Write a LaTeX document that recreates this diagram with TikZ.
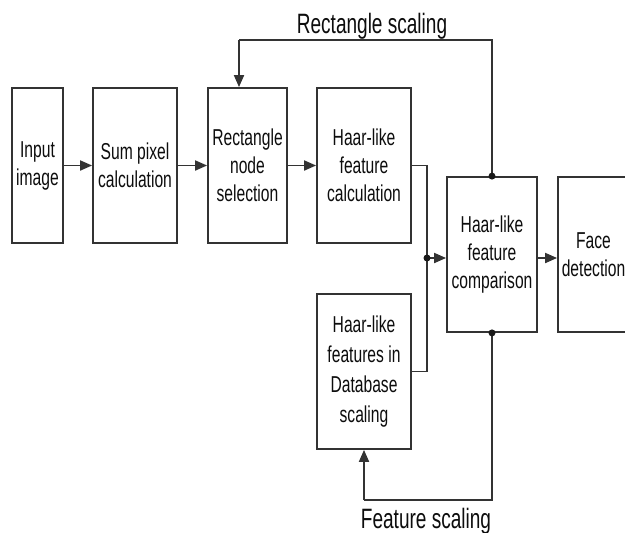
\documentclass[tikz,border=0pt]{standalone}
\usepackage{fontspec}
\setmainfont{Liberation Sans}[FakeStretch=0.68]
\usetikzlibrary{arrows.meta}
\tikzset{
  blk/.style={draw=black!80, line width=1.8pt, minimum height=155pt,
    inner sep=0pt, align=center, text=black!95,
    font=\fontsize{23}{28}\selectfont},
  link/.style={draw=black!80, line width=1.8pt},
  flow/.style={link, -{Triangle[length=12pt,width=10pt]}},
  dot/.style={circle, fill=black!90, inner sep=0pt, minimum size=7pt},
  loopname/.style={anchor=base, text=black!95, font=\fontsize{28}{30}\selectfont}
}
\begin{document}
\begin{tikzpicture}[x=1pt, y=-1pt]
\useasboundingbox (0,0) rectangle (625,533);

% processing blocks
\node[blk, minimum width=51pt] (inp)  at (37.5,165.5) {Input\\image};
\node[blk, minimum width=84pt] (sum)  at (135,165.5)  {Sum pixel\\calculation};
\node[blk, minimum width=79pt] (rect) at (247.5,165.5) {Rectangle\\node\\selection};
\node[blk, minimum width=94pt] (calc) at (364,165.5)  {Haar-like\\feature\\calculation};
\node[blk, minimum width=94pt, font=\fontsize{23}{30}\selectfont] (db) at (364,371.5)
  {Haar-like\\features in\\Database\\scaling};
\node[blk, minimum width=90pt] (cmp)  at (492,254.5)  {Haar-like\\feature\\comparison};
\node[blk, minimum width=71pt] (face) at (593.5,254.5) {Face\\detection};

% main chain
\draw[flow] (inp) -- (sum);
\draw[flow] (sum) -- (rect);
\draw[flow] (rect) -- (calc);

% merge of computed and database features
\coordinate (j) at (427,258);
\draw[link] (calc.east) -- (calc.east -| j) -- (db.east -| j) -- (db.east);
\draw[flow] (j) -- (cmp.west |- j);
\node[dot] at (j) {};
\draw[flow] (cmp.east |- j) -- (face.west |- j);

% rectangle scaling loop
\coordinate (ttop) at (cmp.north);
\coordinate (rin) at (239,40);
\draw[link] (cmp.north) -- (ttop |- rin) -- (rin);
\draw[flow] (rin) -- (rin |- rect.north);
\node[dot] at (cmp.north) {};
\node[loopname] (rsl) at (372,33) {Rectangle scaling};

% feature scaling loop
\coordinate (fin) at (364,500);
\draw[link] (cmp.south) -- (cmp.south |- fin) -- (fin);
\draw[flow] (fin) -- (db.south);
\node[dot] at (cmp.south) {};
\node[loopname] (fsl) at (426,528) {Feature scaling};
\end{tikzpicture}
\end{document}
